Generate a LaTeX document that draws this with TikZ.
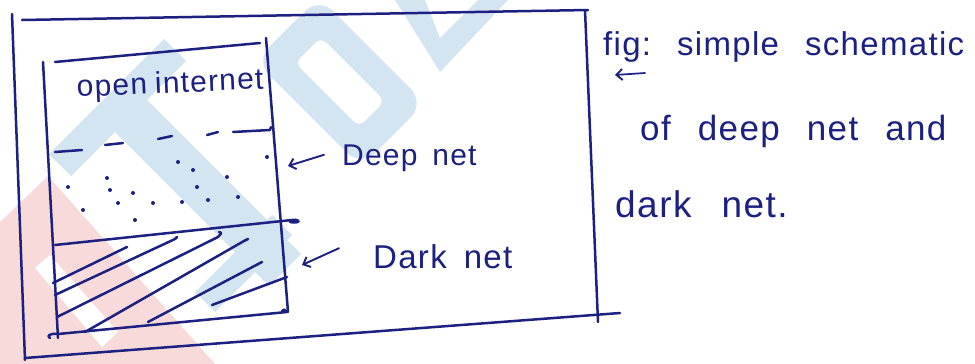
\documentclass[tikz,border=0pt]{standalone}
\usepackage{fontspec}
\setmainfont{Liberation Sans}
\newfontfamily\hand[LetterSpace=4]{Liberation Sans}
\newcommand\handat[2]{\hand\fontsize{#1}{#1}\selectfont\frenchspacing\spaceskip=#2pt\relax}
\usetikzlibrary{arrows.meta}
\definecolor{ink}{RGB}{28,32,128}
\definecolor{wmblue}{RGB}{212,229,242}
\definecolor{wmpink}{RGB}{248,218,218}
\begin{document}
\begin{tikzpicture}[x=1pt,y=-1pt,
  pen/.style={draw=ink,line width=2.5pt,line cap=round,line join=round},
  handtext/.style={text=ink,inner sep=0pt,anchor=base west},
  ptr/.style={draw=ink,line width=1.9pt,line cap=round,-{Straight Barb[length=6pt,width=11pt,line width=1.9pt]}}]
\useasboundingbox (0,0) rectangle (975,364);

% faint background marks
\fill[wmpink] (0,222) -- (48,176) -- (215,364) -- (0,364) -- cycle;
\fill[white] (35,268) -- (50,255) -- (118,332) -- (102,347) -- cycle;
\fill[wmblue] (49,154) -- (71,176) -- (186,61) -- (164,39) -- cycle;
\fill[wmblue] (94,111) -- (126,79) -- (301,254) -- (269,286) -- cycle;
\fill[wmblue] (195,292) -- (215,312) -- (292,235) -- (272,215) -- cycle;
\fill[wmblue,even odd rule]
  {[rounded corners=20pt] (425,103) -- (361,167) -- (255,61) -- (319,-3) -- cycle}
  {[rounded corners=8pt] (385,101) -- (359,127) -- (295,63) -- (321,37) -- cycle};
\fill[wmblue] (395,0) -- (440,72) -- (508,0) -- (478,0) -- (440,38) -- (425,0) -- cycle;

% outer frame
\coordinate (o1) at (12,14);
\coordinate (o2) at (22,20);
\coordinate (o3) at (588,10);
\coordinate (o4) at (598,322);
\coordinate (o5) at (25,358);
\coordinate (o6) at (620,313);
\draw[pen] (o1) -- (25,360);
\draw[pen] (o2) -- (o3);
\draw[pen] (585,10) -- (o4);
\draw[pen] (o5) -- (o6);

% inner box
\draw[pen] (43,62) -- (58,338);
\draw[pen] (55,62) -- (260,43);
\draw[pen] (266,38) -- (288,312);
\draw[pen] (50,338) .. controls (46,336) and (50,333) .. (58,334) -- (287,312) .. controls (284,309) .. (282,311);

% boundary of the deep net
\draw[pen] (55,152) -- (82,150);
\draw[pen] (105,145) -- (123,143);
\draw[pen] (158,139) -- (172,136);
\draw[pen] (207,135) -- (218,132);
\draw[pen] (233,132) -- (270,130) -- (271,127);

% deep net dots
\foreach \p in {(68,187),(107,178),(110,190),(83,210),(118,203),(133,193),(135,220),
  (153,203),(178,162),(193,170),(182,202),(197,187),(208,200),(227,177),(238,197),(267,157)}
  \fill[ink] \p circle (2);

% boundary of the dark net
\draw[pen] (55,245) -- (292,220) .. controls (302,219) and (300,224) .. (290,222);

% dark net hatching
\draw[pen] (53,283) -- (127,247);
\draw[pen] (55,295) -- (175,239) -- (177,237);
\draw[pen] (57,317) -- (218,237) .. controls (222,233) .. (219,232);
\draw[pen] (85,332) -- (244,241) -- (248,239);
\draw[pen] (148,322) -- (262,262);
\draw[pen] (212,305) -- (287,277);

% labels
\node[handtext,rotate=2.5,font=\handat{30}{8}] (open) at (77,97) {open internet};
\node[handtext,font=\handat{30}{15}] (deep) at (342,165) {Deep net};
\node[handtext,font=\handat{33}{17}] (dark) at (373,268) {Dark net};
\coordinate (deeptip) at (288,166);
\coordinate (darktip) at (302,265);
\draw[ptr] (deep.west) ++(-18,-3) -- (deeptip);
\draw[ptr] (dark.west) ++(-34,-8) -- (darktip);

\node[handtext,font=\handat{33}{26}] (cap1) at (603,55) {fig: simple schematic};
\node[handtext,font=\handat{35}{27}] (cap2) at (640,140) {of deep net and};
\node[handtext,font=\handat{37}{30}] (cap3) at (615,217) {dark net.};
\coordinate (figtip) at (615,75);
\draw[ptr,line width=1.7pt] (645,73) -- (figtip);
\end{tikzpicture}
\end{document}
